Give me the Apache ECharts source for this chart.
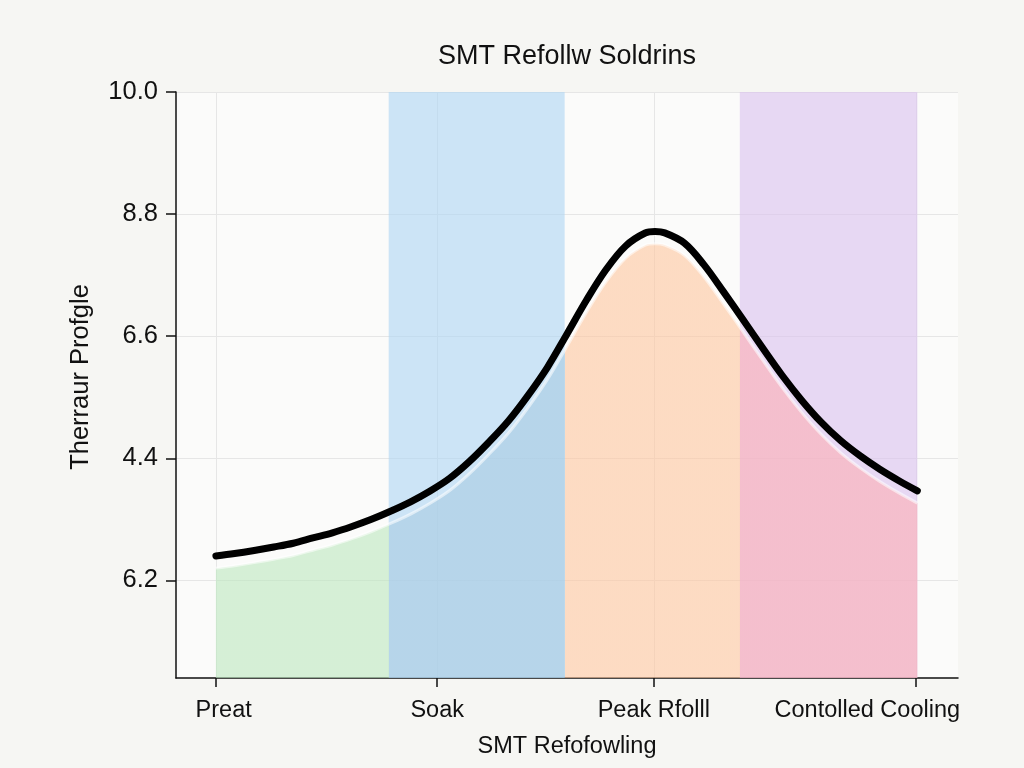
<!DOCTYPE html>
<html>
<head>
<meta charset="utf-8">
<script src="https://cdn.jsdelivr.net/npm/echarts@6/dist/echarts.min.js"></script>
<style>html,body{margin:0;padding:0;background:#f6f6f3;}#c{width:1024px;height:768px;}</style>
</head>
<body>
<div id="c"></div>
<script>
// ---- data ----
const titleText = 'SMT Refollw Soldrins';
const xAxisName = 'SMT Refofowling';
const yAxisName = 'Therraur Profgle';
const phaseNames = ['Preat', 'Soak', 'Peak Rfolll', 'Contolled Cooling'];
const phaseLabelPos = [6.1, 33.4, 61.1, 88.4];
const phaseTickPos = [5.1, 33.4, 61.1, 94.6];
const phaseBounds = [5.1, 27.2, 49.7, 72.1, 94.8];
const yTickValues = [0.8, 1.8, 2.8, 3.8, 4.8];
const yTickLabels = ['6.2', '4.4', '6.6', '8.8', '10.0'];
const xPositions = [5.1, 7.5, 10, 12.5, 15, 17.5, 20, 22.5, 25, 27.5, 30, 32.5, 35, 37.5, 40, 42.5, 45, 47.5, 50,
  52.5, 55, 57.5, 60, 61.25, 62.5, 65, 67.5, 70, 72.5, 75, 77.5, 80, 82.5, 85, 87.5, 90, 92.5, 94.8];
const profile = [1.000, 1.020, 1.045, 1.073, 1.104, 1.147, 1.189, 1.241, 1.300, 1.368, 1.443, 1.532, 1.636, 1.772, 1.931, 2.105, 2.313, 2.545, 2.818,
  3.096, 3.346, 3.539, 3.645, 3.657, 3.646, 3.563, 3.386, 3.165, 2.937, 2.705, 2.480, 2.276, 2.096, 1.944, 1.819, 1.710, 1.614, 1.533];

// ---- styles ----
const areaGap = 0.1;
const areaColors = ['rgba(188,231,190,0.6)', 'rgba(168,203,226,0.6)', 'rgba(254,198,158,0.6)', 'rgba(253,174,180,0.6)'];
const bandColors = ['rgba(0,0,0,0)', 'rgba(174,213,243,0.6)', 'rgba(0,0,0,0)', 'rgba(218,193,238,0.6)'];
const font = "'Liberation Sans', Arial, sans-serif";

const lineData = xPositions.map((x, i) => [x, profile[i]]);
const areaData = xPositions.map((x, i) => [x, profile[i] - areaGap]);

function yLabel(v) {
  for (let i = 0; i < yTickValues.length; i++) {
    if (Math.abs(yTickValues[i] - v) < 1e-6) return yTickLabels[i];
  }
  return '';
}
function xLabel(v) {
  for (let i = 0; i < phaseLabelPos.length; i++) {
    if (Math.abs(phaseLabelPos[i] - v) < 1e-6) return phaseNames[i];
  }
  return '';
}

const bands = [];
for (let i = 0; i < 4; i++) {
  bands.push([{ xAxis: phaseBounds[i], itemStyle: { color: bandColors[i] } }, { xAxis: phaseBounds[i + 1] }]);
}
const pieces = [];
for (let i = 0; i < 4; i++) {
  const p = { color: areaColors[i] };
  if (i > 0) p.gte = phaseBounds[i];
  if (i < 3) p.lt = phaseBounds[i + 1];
  pieces.push(p);
}

const chart = echarts.init(document.getElementById('c'), null, { renderer: 'canvas' });
chart.setOption({
  backgroundColor: '#f6f6f3',
  animation: false,
  textStyle: { fontFamily: font },
  title: {
    text: titleText, left: 562, textAlign: 'center', top: 38,
    textStyle: { fontFamily: font, fontSize: 27, fontWeight: 'normal', color: '#111' }
  },
  grid: { left: 176, right: 66, top: 92, bottom: 90, show: true, backgroundColor: '#fbfbfa', borderWidth: 0 },
  xAxis: [{
    type: 'value', min: 0, max: 100,
    axisLine: { show: true, lineStyle: { color: '#111', width: 1.5 } },
    axisTick: { show: true, length: 9, customValues: phaseTickPos, lineStyle: { color: '#111', width: 1.5 } },
    axisLabel: { show: false },
    splitLine: { show: true, lineStyle: { color: '#e6e6e6', width: 1 } }
  }, {
    type: 'value', min: 0, max: 100, position: 'bottom',
    axisLine: { show: false }, axisTick: { show: false }, splitLine: { show: false },
    axisLabel: {
      show: true, customValues: phaseLabelPos, formatter: xLabel, margin: 21,
      fontFamily: font, fontSize: 23.5, color: '#111'
    },
    name: xAxisName, nameLocation: 'middle', nameGap: 57,
    nameTextStyle: { fontFamily: font, fontSize: 23.5, color: '#111' }
  }],
  yAxis: {
    type: 'value', min: 0, max: 4.8,
    axisLine: { show: true, lineStyle: { color: '#111', width: 1.5 } },
    axisTick: { show: true, length: 10, customValues: yTickValues, lineStyle: { color: '#111', width: 1.5 } },
    axisLabel: { customValues: yTickValues, formatter: yLabel, margin: 18, fontFamily: font, fontSize: 25.5, color: '#111' },
    splitLine: { show: true, lineStyle: { color: '#e6e6e6', width: 1 } },
    name: yAxisName, nameLocation: 'middle', nameGap: 82,
    nameTextStyle: { fontFamily: font, fontSize: 25.5, color: '#111', padding: [0, 0, 0, 16] }
  },
  visualMap: {
    type: 'piecewise', show: false, dimension: 0, seriesIndex: 0, pieces: pieces
  },
  series: [{
    type: 'line', z: 2, data: areaData, smooth: 0.35, showSymbol: false, silent: true,
    lineStyle: { color: 'rgba(255,255,255,0.55)', width: 3 },
    areaStyle: { opacity: 1 },
    markArea: { silent: true, z: 1, data: bands }
  }, {
    type: 'line', z: 3, data: lineData, smooth: 0.35, showSymbol: false, silent: true,
    lineStyle: { color: '#000', width: 7, cap: 'round', join: 'round' }
  }]
});
</script>
</body>
</html>
